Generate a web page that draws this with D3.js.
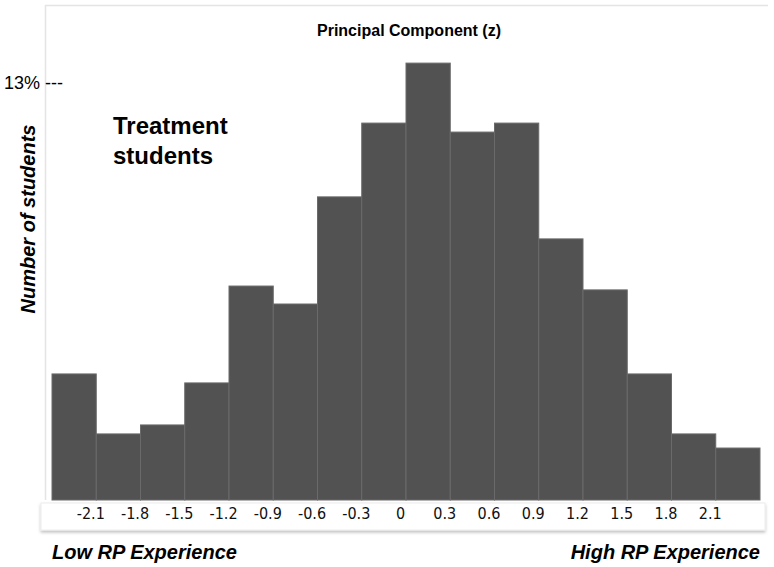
<!DOCTYPE html>
<html><head><meta charset="utf-8">
<script src="https://cdn.jsdelivr.net/npm/d3@7"></script>
<style>body{margin:0;background:#fff}svg{display:block}text{font-family:"Liberation Sans",Arial,sans-serif}</style>
</head><body>
<script>
const binStarts = [-2.4,-2.1,-1.8,-1.5,-1.2,-0.9,-0.6,-0.3,0,0.3,0.6,0.9,1.2,1.5,1.8,2.1];
const binWidth = 0.3;
const percents = [3.93,2.06,2.34,3.65,6.67,6.11,9.45,11.75,13.62,11.47,11.75,8.14,6.55,3.93,2.06,1.62];
const tickValues = [-2.1,-1.8,-1.5,-1.2,-0.9,-0.6,-0.3,0,0.3,0.6,0.9,1.2,1.5,1.8,2.1];
const tickLabels = ["-2.1","-1.8","-1.5","-1.2","-0.9","-0.6","-0.3","0","0.3","0.6","0.9","1.2","1.5","1.8","2.1"];
const refPercent = 13;

const W=774,H=567;
const svg=d3.select("body").append("svg").attr("width",W).attr("height",H);
const x=d3.scaleLinear().domain([-2.4,2.4]).range([52,760]);
const y=d3.scaleLinear().domain([0,13]).range([500,83]);

const defs=svg.append("defs");
const f=defs.append("filter").attr("id","sh").attr("x","-5%").attr("y","-50%").attr("width","110%").attr("height","200%");
f.append("feDropShadow").attr("dx",0).attr("dy",2).attr("stdDeviation",1.5).attr("flood-color","#000").attr("flood-opacity",0.25);

// panel border
svg.append("path").attr("d","M45.5,500 V5.5 H768").attr("fill","none").attr("stroke","#e4e4e4").attr("stroke-width",1.5);

// bars
svg.append("g").selectAll("rect").data(percents).join("rect")
  .attr("x",(d,i)=>x(binStarts[i]))
  .attr("width",(d,i)=>x(binStarts[i]+binWidth)-x(binStarts[i]))
  .attr("y",d=>y(d)).attr("height",d=>y(0)-y(d))
  .attr("fill","#525252").attr("stroke","#6a6a6a").attr("stroke-width",1);

// tick box
svg.append("rect").attr("x",41).attr("y",503).attr("width",724).attr("height",27)
  .attr("fill","#fff").attr("stroke","#ececec").attr("filter","url(#sh)");

const ax=d3.axisBottom(x).tickValues(tickValues).tickFormat((d,i)=>tickLabels[i]).tickSize(0).tickPadding(0);
const g=svg.append("g").attr("transform","translate(0,508)").call(ax);
g.select(".domain").remove();
g.selectAll("text").attr("dx",-6)
  .style("font-size","16px").style("font-family","'DejaVu Sans Condensed',sans-serif").attr("fill","#111");

// title
svg.append("text").attr("x",409).attr("y",36).attr("text-anchor","middle").attr("font-size",16).attr("font-weight","bold").text("Principal Component (z)");

// ref label
svg.append("text").attr("x",4).attr("y",y(refPercent)+6).attr("font-size",18).text("13% ---");

// Treatment students
const t=svg.append("text").attr("font-size",24).attr("font-weight","bold");
t.append("tspan").attr("x",113).attr("y",134).text("Treatment");
t.append("tspan").attr("x",113).attr("y",164).text("students");

// y label
svg.append("text").attr("transform","translate(35,219) rotate(-90)").attr("text-anchor","middle")
  .attr("font-size",20).attr("font-weight","bold").attr("font-style","italic").text("Number of students");

svg.append("text").attr("x",52).attr("y",559).attr("font-size",20).attr("font-weight","bold").attr("font-style","italic").text("Low RP Experience");
svg.append("text").attr("x",760).attr("y",559).attr("text-anchor","end").attr("font-size",20).attr("font-weight","bold").attr("font-style","italic").text("High RP Experience");
</script>
</body></html>
